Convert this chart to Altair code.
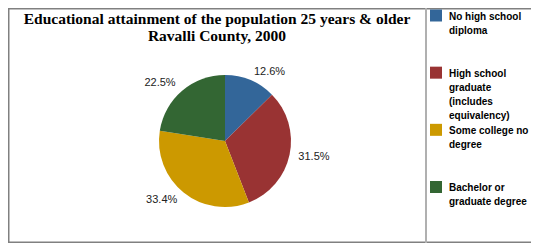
import altair as alt
import pandas as pd

# ---- data ----
categories = [
    "No high school diploma",
    "High school graduate (includes equivalency)",
    "Some college no degree",
    "Bachelor or graduate degree",
]
legend_labels = [
    "No high school\ndiploma",
    "High school\ngraduate\n(includes\nequivalency)",
    "Some college no\ndegree",
    "Bachelor or\ngraduate degree",
]
percents = [12.6, 31.5, 33.4, 22.5]
colors = ["#336699", "#993333", "#CC9900", "#336633"]
title_lines = ["Educational attainment of the population 25 years & older",
               "Ravalli County, 2000"]

df = pd.DataFrame({
    "cat": categories,
    "legend": legend_labels,
    "value": percents,
    "order": list(range(len(categories))),
})

W, H = 523, 235
CX, CY = 217, 133  # pie centre inside the chart

color = alt.Color("cat:N", scale=alt.Scale(domain=categories, range=colors), legend=None)
theta_scale = alt.Scale(domain=[0, 100])

base = alt.Chart(df)

pie = base.mark_arc(outerRadius=66).encode(
    theta=alt.Theta("value:Q", stack=True, scale=theta_scale),
    order=alt.Order("order:Q"),
    color=color,
    x=alt.value(CX),
    y=alt.value(CY),
)

lab_base = base.transform_window(
    cum="sum(value)", sort=[alt.SortField("order")]
).transform_calculate(
    mid="datum.cum - datum.value / 2",
    label="format(datum.value, '.1f') + '%'",
)

lab_right = lab_base.transform_filter("datum.mid < 50").mark_text(
    radius=75, align="left", baseline="middle",
    font="Liberation Sans", fontSize=11, color="#222222",
).encode(
    theta=alt.Theta("mid:Q", scale=theta_scale),
    text="label:N",
    x=alt.value(CX), y=alt.value(CY),
)
lab_left = lab_base.transform_filter("datum.mid >= 50").mark_text(
    radius=76, align="right", baseline="middle",
    font="Liberation Sans", fontSize=11, color="#222222",
).encode(
    theta=alt.Theta("mid:Q", scale=theta_scale),
    text="label:N",
    x=alt.value(CX), y=alt.value(CY),
)

legend_y = alt.Y("cat:N", scale=alt.Scale(type="point", domain=categories,
                                          range=[7.5, 179], padding=0), axis=None)

leg_sq = base.mark_square(size=144, opacity=1).encode(
    x=alt.value(428), y=legend_y, color=color,
)
leg_txt = base.mark_text(
    align="left", baseline="alphabetic", dy=4, lineBreak="\n", lineHeight=14,
    font="Liberation Sans", fontWeight="bold", fontSize=10, color="#000000",
).encode(
    x=alt.value(441), y=legend_y, text="legend:N",
)

title = alt.Chart(pd.DataFrame({"t": [0]})).mark_text(
    text=title_lines, align="center", baseline="alphabetic", lineHeight=17,
    font="Liberation Serif", fontWeight="bold", fontSize=15.5, color="#000000",
).encode(x=alt.value(209), y=alt.value(16))

one = pd.DataFrame({"t": [0]})
sep = alt.Chart(one).mark_rule(color="#b0b0b0", strokeWidth=2).encode(
    x=alt.value(418), y=alt.value(0), y2=alt.value(H),
)
# outer frame (left, top, bottom); the right side lies beyond the picture
frame_left = alt.Chart(one).mark_rule(color="#808080", strokeWidth=1.5).encode(
    x=alt.value(0.75), y=alt.value(0), y2=alt.value(H),
)
frame_top = alt.Chart(one).mark_rule(color="#808080", strokeWidth=1.5).encode(
    y=alt.value(0.75), x=alt.value(0), x2=alt.value(W),
)
frame_bottom = alt.Chart(one).mark_rule(color="#808080", strokeWidth=1.5).encode(
    y=alt.value(H - 0.75), x=alt.value(0), x2=alt.value(W),
)

chart = alt.layer(frame_left, frame_top, frame_bottom, sep, pie, lab_right, lab_left,
                  leg_sq, leg_txt, title).properties(
    width=W, height=H, padding=0, autosize="none", background="white",
).configure_view(strokeWidth=0)

chart.save("out.html", embed_options={"renderer": "svg", "actions": False})
